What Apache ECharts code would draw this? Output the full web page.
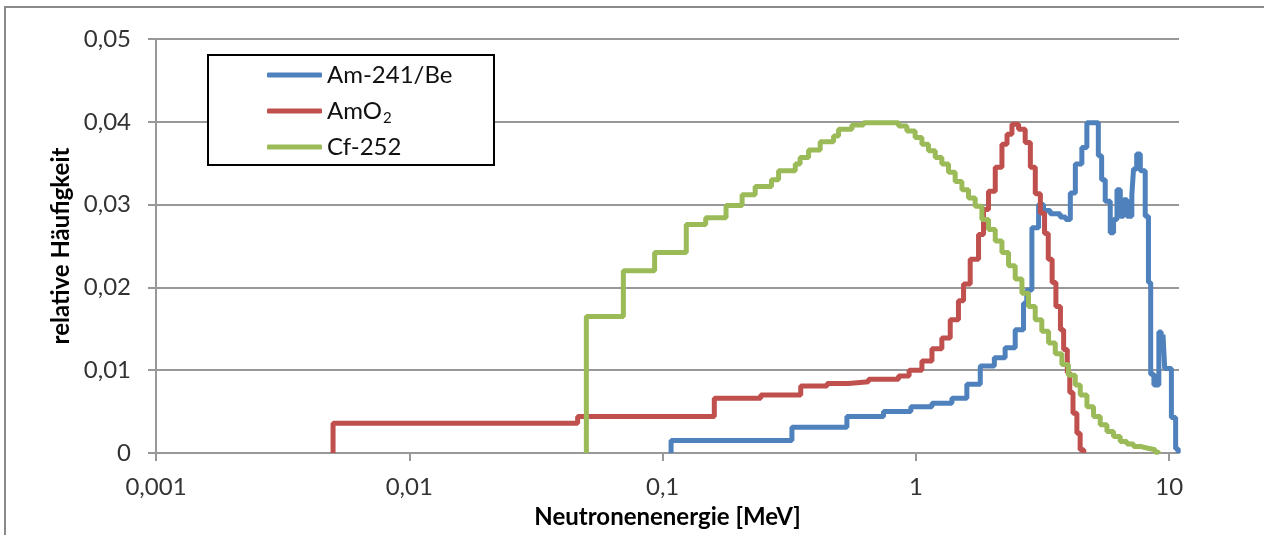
<!DOCTYPE html>
<html>
<head>
<meta charset="utf-8">
<script src="https://cdn.jsdelivr.net/npm/echarts@6/dist/echarts.min.js"></script>
<style>
html,body{margin:0;padding:0;background:#fff;}
#chart{width:1264px;height:535px;}
</style>
</head>
<body>
<div id="chart"></div>
<script>
// ---- Data (bin left edges in MeV, relative frequency) ----
const seriesNames = ['Am-241/Be', 'AmO2', 'Cf-252'];
const xTickValues = [0.001, 0.01, 0.1, 1, 10];
const xTickLabels = ['0,001', '0,01', '0,1', '1', '10'];
const yTickLabels = ['0', '0,01', '0,02', '0,03', '0,04', '0,05'];

const amBeEnergy = [0.108, 0.108, 0.324, 0.534, 0.745, 0.955, 1.157, 1.387, 1.589, 1.795, 2.04, 2.25, 2.466, 2.66, 2.74, 2.87, 3.05, 3.19, 3.39, 3.71, 3.90, 4.07, 4.26, 4.52, 4.73, 5.25, 5.41, 5.59, 5.85, 6.03, 6.22, 6.41, 6.60, 6.81, 7.12, 7.23, 7.44, 7.69, 8.04, 8.28, 8.45, 8.7, 9.1, 9.3, 9.45, 9.6, 10.2, 10.6, 10.85];
const amBeValue  = [0, 0.0015, 0.0031, 0.0044, 0.0050, 0.0056, 0.0060, 0.0066, 0.0083, 0.0105, 0.0115, 0.0127, 0.0149, 0.0181, 0.0197, 0.0272, 0.0300, 0.0293, 0.0289, 0.0285, 0.0282, 0.0314, 0.0349, 0.0369, 0.0399, 0.0359, 0.0330, 0.0304, 0.0266, 0.0282, 0.0318, 0.0286, 0.0306, 0.0286, 0.0312, 0.0343, 0.0361, 0.0341, 0.0286, 0.0206, 0.0095, 0.0082, 0.0146, 0.0135, 0.0143, 0.0102, 0.0043, 0.0005, 0];

const amO2Energy = [0.005, 0.005, 0.0462, 0.160, 0.244, 0.351, 0.446, 0.542, 0.650, 0.854, 0.94, 1.056, 1.157, 1.266, 1.366, 1.472, 1.542, 1.638, 1.767, 1.849, 1.935, 2.057, 2.186, 2.289, 2.394, 2.543, 2.70, 2.83, 2.96, 3.10, 3.22, 3.33, 3.45, 3.57, 3.72, 3.83, 3.96, 4.05, 4.17, 4.32, 4.45, 4.6];
const amO2Value  = [0, 0.0036, 0.0044, 0.0066, 0.0070, 0.0081, 0.0084, 0.0086, 0.0089, 0.0093, 0.0100, 0.0111, 0.0126, 0.0139, 0.0161, 0.0184, 0.0204, 0.0234, 0.0264, 0.0294, 0.0316, 0.0345, 0.0373, 0.0385, 0.0397, 0.0391, 0.0375, 0.0345, 0.0313, 0.0290, 0.0265, 0.0234, 0.0206, 0.0177, 0.0149, 0.0125, 0.0097, 0.0073, 0.0048, 0.0024, 0.0004, 0];

const cfEnergy = [0.05, 0.05, 0.070, 0.093, 0.124, 0.148, 0.178, 0.206, 0.232, 0.269, 0.287, 0.334, 0.349, 0.377, 0.419, 0.473, 0.495, 0.559, 0.621, 0.854, 0.921, 0.993, 1.056, 1.121, 1.192, 1.266, 1.345, 1.429, 1.519, 1.613, 1.714, 1.822, 1.935, 2.057, 2.186, 2.321, 2.466, 2.621, 2.783, 2.958, 3.14, 3.34, 3.55, 3.77, 4.0, 4.256, 4.455, 4.733, 5.026, 5.341, 5.677, 6.028, 6.405, 6.808, 7.231, 7.685, 8.166, 8.805, 9.1];
const cfValue  = [0, 0.0165, 0.0220, 0.0242, 0.0276, 0.0284, 0.0299, 0.0312, 0.0322, 0.0330, 0.0341, 0.0349, 0.0357, 0.0366, 0.0376, 0.0383, 0.0391, 0.0396, 0.0399, 0.0395, 0.0389, 0.0381, 0.0373, 0.0365, 0.0357, 0.0349, 0.0339, 0.0328, 0.0318, 0.0308, 0.0298, 0.0282, 0.0270, 0.0256, 0.0242, 0.0226, 0.0210, 0.0193, 0.0177, 0.0161, 0.0147, 0.0133, 0.0120, 0.0107, 0.0094, 0.0082, 0.0070, 0.0056, 0.0044, 0.0034, 0.0026, 0.0020, 0.0014, 0.0011, 0.0008, 0.0006, 0.0004, 0.0001, 0];

const colors = ['#4F81BD', '#C0504D', '#9BBB59'];

function pairs(xs, ys) { return xs.map((x, i) => [x, ys[i]]); }

const FONT = 'Lato';
const axisColor = '#989898';

const chart = echarts.init(document.getElementById('chart'), null, {renderer: 'canvas'});
const mk = (name, xs, ys, c) => ({
  name: name, type: 'line', step: 'end', showSymbol: false, symbol: 'none',
  clip: false,
  data: pairs(xs, ys), color: c,
  lineStyle: {color: c, width: 5},
  emphasis: {disabled: true}, animation: false
});

function xLabel(v) {
  const i = xTickValues.findIndex(t => Math.abs(Math.log10(t) - Math.log10(v)) < 1e-6);
  return i >= 0 ? xTickLabels[i] : '';
}

chart.setOption({
  backgroundColor: '#fff',
  animation: false,
  grid: {left: 156, right: 85, top: 39, bottom: 82, containLabel: false},
  xAxis: {
    type: 'log', logBase: 10, min: 0.001, max: 10.93,
    name: 'Neutronenenergie [MeV]', nameLocation: 'middle', nameGap: 52,
    nameTextStyle: {fontFamily: FONT, fontSize: 24, fontWeight: 'bold', color: '#000'},
    axisLine: {show: true, lineStyle: {color: axisColor, width: 2}},
    axisTick: {show: true, length: 8, inside: false, customValues: xTickValues, lineStyle: {color: axisColor, width: 2}},
    minorTick: {show: false},
    splitLine: {show: false},
    axisLabel: {
      fontFamily: FONT, fontSize: 24, color: '#333', margin: 22,
      customValues: xTickValues,
      showMinLabel: true, showMaxLabel: true,
      formatter: xLabel
    }
  },
  yAxis: {
    type: 'value', min: 0, max: 0.05, interval: 0.01,
    name: 'relative Häufigkeit', nameLocation: 'middle', nameGap: 83, nameRotate: 90,
    nameTextStyle: {fontFamily: FONT, fontSize: 24, fontWeight: 'bold', color: '#000'},
    axisLine: {show: true, lineStyle: {color: axisColor, width: 2}},
    axisTick: {show: true, length: 8, lineStyle: {color: axisColor, width: 2}},
    splitLine: {show: true, lineStyle: {color: axisColor, width: 2}},
    axisLabel: {
      fontFamily: FONT, fontSize: 24, color: '#333', margin: 25,
      formatter: v => yTickLabels[Math.round(v / 0.01)]
    }
  },
  legend: {
    orient: 'vertical', left: 267, top: 60, padding: 0,
    itemWidth: 55, itemHeight: 5, itemGap: 6, icon: 'roundRect',
    z: 8, selectedMode: false,
    data: seriesNames,
    formatter: function (n) { return n === 'AmO2' ? '{a|AmO}{s|2}' : '{a|' + n + '}'; },
    textStyle: {
      fontFamily: FONT, fontSize: 24, color: '#111', lineHeight: 30,
      rich: {
        a: {fontFamily: FONT, fontSize: 24, color: '#111', lineHeight: 30, verticalAlign: 'middle'},
        s: {fontFamily: FONT, fontSize: 15, color: '#111', lineHeight: 30, verticalAlign: 'middle', padding: [14, 0, 0, 1]}
      }
    }
  },
  graphic: [
    {type: 'rect', z: 0, silent: true, shape: {x: 5, y: 7, width: 1400, height: 700},
     style: {fill: 'none', stroke: '#8a8a8a', lineWidth: 2}},
    {type: 'rect', z: 6, silent: true, shape: {x: 208, y: 55, width: 286, height: 110},
     style: {fill: '#fff', stroke: '#000', lineWidth: 2}}
  ],
  series: [
    mk(seriesNames[0], amBeEnergy, amBeValue, colors[0]),
    mk(seriesNames[1], amO2Energy, amO2Value, colors[1]),
    mk(seriesNames[2], cfEnergy, cfValue, colors[2])
  ]
});
</script>
</body>
</html>
